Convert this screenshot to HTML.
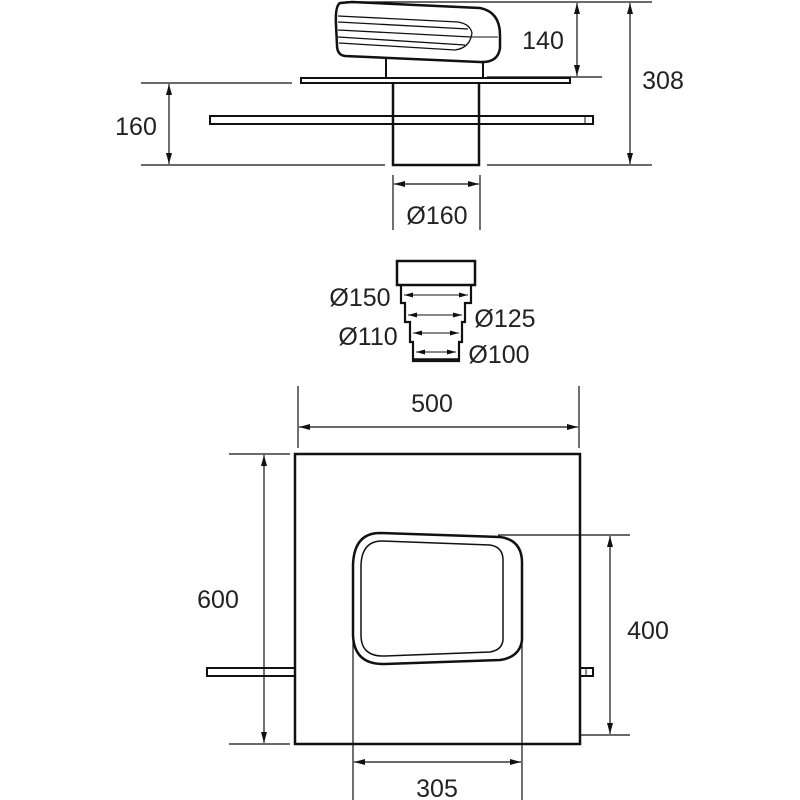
<!DOCTYPE html>
<html><head><meta charset="utf-8"><style>html,body{margin:0;padding:0;background:#fff}svg{display:block}</style></head>
<body>
<svg width="800" height="800" viewBox="0 0 800 800" xmlns="http://www.w3.org/2000/svg">
<g fill="none" stroke="#111" font-family="Liberation Sans, sans-serif">
<!-- TOP VIEW -->
<path d="M340,3 L352,2 L480,8 Q500,12 500,35 L500,48 Q498,63 480,62 L345,56 Q337,55 337,45 L336,25 Q335,6 340,3 Z" stroke-width="2.5"/>
<path d="M338,16 L458,22 Q470,24 472,33 Q470,48 455,50 L339,43" stroke-width="1.3"/>
<path d="M338,22 L468,29 M338,30 L471,37 M338,37 L465,45" stroke-width="1.3"/>
<path d="M472,37 L498,37" stroke-width="1"/>
<path d="M386,57 L386,79 M483,62 L483,79" stroke-width="2"/>
<rect x="301" y="78" width="269" height="5" stroke-width="2"/>
<path d="M393,83 L393,165 L479,165 L479,83" stroke-width="2.5"/>
<rect x="210" y="116" width="383" height="8" stroke-width="2"/>
<path d="M585,116 L585,124" stroke-width="1"/>
<path d="M345,2 L652,2 M487,77 L602,77 M141,83 L292,83 M141,165 L385,165 M487,165 L652,165" stroke-width="1.2"/>
<path d="M577,3 L577,76 M630,3 L630,164 M169,84 L169,164 M393,175 L393,230 M480,175 L480,230 M394,184 L479,184" stroke-width="1.2"/>
<!-- ADAPTER -->
<rect x="397" y="261" width="78" height="24" stroke-width="2.5"/>
<path d="M401,285 L401,303 L405,303 L405,322 L410,322 L410,342 L413,342 L413,361 L459,361 L459,342 L462,342 L462,322 L465,322 L465,303 L471,303 L471,285" stroke-width="2.2"/>
<path d="M413,360 L459,360" stroke-width="3.5"/>
<path d="M404,295 L468,295 M408,315 L462,315 M413,333 L459,333 M416,352 L456,352" stroke-width="1"/>
<!-- BOTTOM VIEW -->
<rect x="295" y="454" width="285" height="290" stroke-width="2.5"/>
<rect x="207" y="668" width="88" height="8" stroke-width="2"/>
<rect x="580" y="668" width="13" height="8" stroke-width="2"/>
<path d="M586,668 L586,676" stroke-width="1"/>
<path d="M380,533 L500,537 Q523,540 522,565 L522,640 Q520,657 500,660 L385,664 Q354,665 353,635 L353,565 Q354,533 380,533 Z" stroke-width="2.5"/>
<path d="M382,541 L490,545 Q503,547 503,560 L503,640 Q502,650 490,652 L385,656 Q361,657 361,635 L361,565 Q362,541 382,541 Z" stroke-width="1.5"/>
<path d="M298,386 L298,448 M579,386 L579,448 M299,427 L578,427 M229,454 L290,454 M229,744 L290,744 M264,455 L264,743 M498,535 L630,535 M580,735 L630,735 M610,536 L610,734 M353,640 L353,800 M522,640 L522,800 M354,762 L521,762" stroke-width="1.2"/>
</g>
<g fill="#111" stroke="none">
<!-- vertical arrowheads -->
<polygon points="577,3 574,14 580,14"/><polygon points="577,76 574,65 580,65"/>
<polygon points="630,3 627,14 633,14"/><polygon points="630,164 627,153 633,153"/>
<polygon points="169,84 166,95 172,95"/><polygon points="169,164 166,153 172,153"/>
<polygon points="264,455 261,466 267,466"/><polygon points="264,743 261,732 267,732"/>
<polygon points="610,536 607,547 613,547"/><polygon points="610,734 607,723 613,723"/>
<!-- horizontal -->
<polygon points="394,184 405,181 405,187"/><polygon points="479,184 468,181 468,187"/>
<polygon points="299,427 310,424 310,430"/><polygon points="578,427 567,424 567,430"/>
<polygon points="354,762 365,759 365,765"/><polygon points="521,762 510,759 510,765"/>
<polygon points="404,295 413,292.5 413,297.5"/><polygon points="468,295 459,292.5 459,297.5"/>
<polygon points="408,315 417,312.5 417,317.5"/><polygon points="462,315 453,312.5 453,317.5"/>
<polygon points="413,333 422,330.5 422,335.5"/><polygon points="459,333 450,330.5 450,335.5"/>
<polygon points="416,352 425,349.5 425,354.5"/><polygon points="456,352 447,349.5 447,354.5"/>
</g>
<g fill="#222" font-family="Liberation Sans, DejaVu Sans, sans-serif" font-size="25">
<text x="543" y="49" text-anchor="middle">140</text>
<text x="663" y="89" text-anchor="middle">308</text>
<text x="136" y="135" text-anchor="middle">160</text>
<text x="437" y="224" text-anchor="middle">Ø160</text>
<text x="360" y="306" text-anchor="middle">Ø150</text>
<text x="505" y="327" text-anchor="middle">Ø125</text>
<text x="368" y="345" text-anchor="middle">Ø110</text>
<text x="499" y="363" text-anchor="middle">Ø100</text>
<text x="432" y="412" text-anchor="middle">500</text>
<text x="218" y="608" text-anchor="middle">600</text>
<text x="648" y="639" text-anchor="middle">400</text>
<text x="437" y="797" text-anchor="middle">305</text>
</g>
</svg>
</body></html>
